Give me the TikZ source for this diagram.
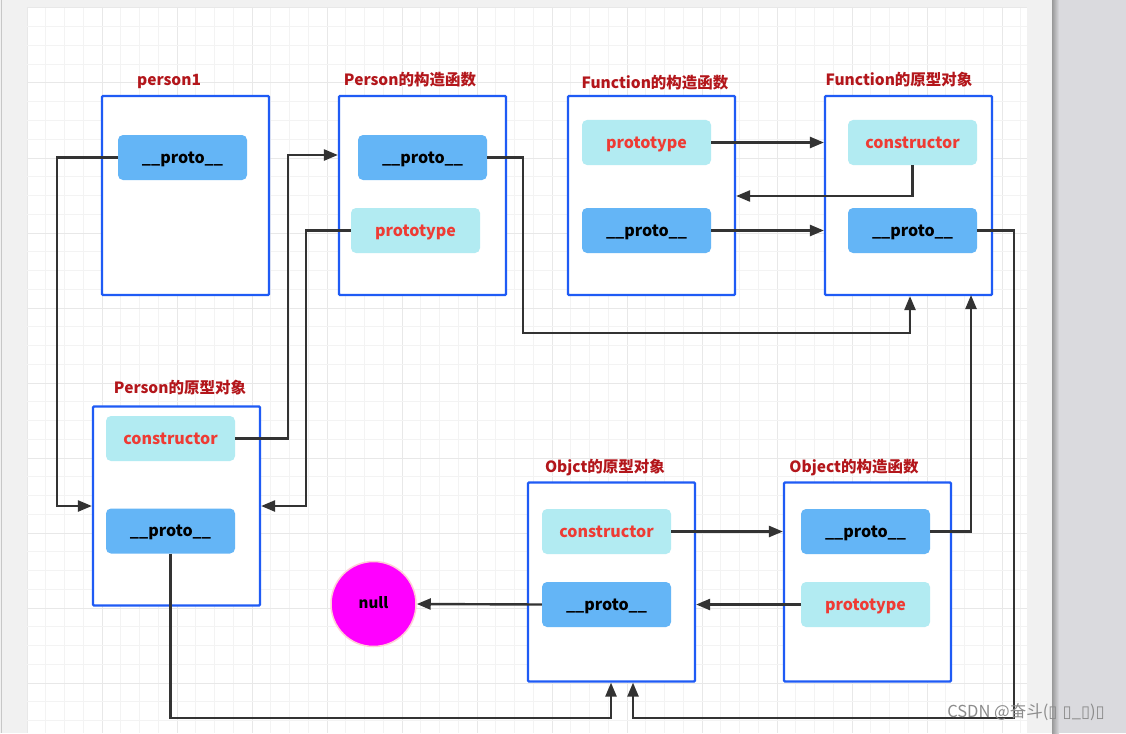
\documentclass[tikz,border=0pt]{standalone}
\usepackage{fontspec}
\setmainfont{Noto Sans CJK SC}
\newfontfamily\dejavu{DejaVu Sans}
\usetikzlibrary{arrows.meta,calc}
\definecolor{boxblue}{HTML}{1F5BF5}
\definecolor{protoblue}{HTML}{64B5F6}
\definecolor{propcyan}{HTML}{B2EBF2}
\definecolor{propred}{HTML}{EE3B34}
\definecolor{titlered}{HTML}{B3161B}
\definecolor{linegray}{HTML}{333333}
\definecolor{gridminor}{HTML}{F3F3F3}
\definecolor{gridmajor}{HTML}{E8E8E8}
\definecolor{sidegray}{HTML}{F1F1F1}
\definecolor{deskgray}{HTML}{DADADE}
\definecolor{nullfill}{RGB}{255,0,255}
\definecolor{nullring}{RGB}{255,205,215}
\definecolor{wmgray}{HTML}{8C8C8C}
\begin{document}
\begin{tikzpicture}[x=1pt,y=-1pt,
  box/.style={draw=boxblue, line width=2.2pt, fill=white, minimum width=167pt, minimum height=199pt, inner sep=0pt, rounded corners=1pt},
  inner/.style={rounded corners=5pt, minimum width=129pt, minimum height=45pt, inner sep=0pt, text height=14.5pt, text depth=3pt, font=\fontsize{16}{18}\selectfont\bfseries},
  protobox/.style={inner, fill=protoblue, text=black},
  propbox/.style={inner, fill=propcyan, text=propred},
  ttl/.style={text=titlered, inner sep=0pt, text height=15pt, text depth=3pt, font=\fontsize{15.5}{18}\selectfont\bfseries},
  arr/.style={draw=linegray, line width=2.4pt, -{Triangle[length=14pt,width=11pt]}}
]
\useasboundingbox (0,0) rectangle (1126,733);
% page background
\fill[sidegray] (0,0) rectangle (1052,733);
\fill[white] (27,8) rectangle (1027,733);
\draw[draw=black!22, line width=1pt] (1,0) -- (1,733);
\fill[deskgray] (1052,0) rectangle (1126,733);
\shade[left color=black!40, right color=deskgray] (1052,0) rectangle (1059,733);
% grid
\foreach \k in {0,...,53} {
  \pgfmathtruncatemacro{\m}{mod(\k,4)}
  \ifnum\m=0 \draw[gridmajor, line width=1pt] (27+18.75*\k,8) -- (27+18.75*\k,733);
  \else \draw[gridminor, line width=0.9pt] (27+18.75*\k,8) -- (27+18.75*\k,733); \fi
}
\foreach \k in {0,...,38} {
  \pgfmathtruncatemacro{\m}{mod(\k,4)}
  \ifnum\m=0 \draw[gridmajor, line width=1pt] (27,8+18.75*\k) -- (1027,8+18.75*\k);
  \else \draw[gridminor, line width=0.9pt] (27,8+18.75*\k) -- (1027,8+18.75*\k); \fi
}
% boxes
\node[box] (p1box) at (185.5,195.5) {};
\node[box] (pcbox) at (422.5,195.5) {};
\node[box] (fcbox) at (651.5,195.5) {};
\node[box] (fobox) at (908.5,195.5) {};
\node[box] (ppbox) at (176.5,506) {};
\node[box] (oobox) at (611.5,582) {};
\node[box] (ocbox) at (867.5,582) {};
% titles
\node[ttl] (t1) at (169,80) {person1};
\node[ttl] (t2) at (410,80) {Person的构造函数};
\node[ttl] (t3) at (655,83) {Function的构造函数};
\node[ttl] (t4) at (899,80) {Function的原型对象};
\node[ttl] (t5) at (180,387) {Person的原型对象};
\node[ttl] (t6) at (605,466) {Objct的原型对象};
\node[ttl] (t7) at (854,466) {Object的构造函数};
% inner items
\node[protobox] (p1proto) at (182.5,157.5) {\_\_proto\_\_};
\node[protobox] (pcproto) at (422.5,157.5) {\_\_proto\_\_};
\node[propbox]  (pcprot)  at (415.5,230.5) {prototype};
\node[propbox]  (fcprot)  at (646.5,142.5) {prototype};
\node[protobox] (fcproto) at (646.5,230.5) {\_\_proto\_\_};
\node[propbox]  (focons)  at (912.5,142.5) {constructor};
\node[protobox] (foproto) at (912.5,230.5) {\_\_proto\_\_};
\node[propbox]  (ppcons)  at (170.5,438.5) {constructor};
\node[protobox] (ppproto) at (170.5,531) {\_\_proto\_\_};
\node[propbox]  (oocons)  at (606.5,531.5) {constructor};
\node[protobox] (ooproto) at (606.5,604.5) {\_\_proto\_\_};
\node[protobox] (ocproto) at (865.5,531.5) {\_\_proto\_\_};
\node[propbox]  (ocprot)  at (865.5,604.5) {prototype};
\node[circle, fill=nullfill, draw=nullring, line width=1.5pt, minimum size=85pt, inner sep=0pt,
      text height=12pt, text depth=3pt, font=\fontsize{15}{18}\selectfont\bfseries] (null) at (373.5,604) {null};
% helper coordinates
\coordinate (c4) at (910,333);
\coordinate (c6) at (912.5,196);
\coordinate (c8) at (1014,718);
\coordinate (c8b) at (633,718);
\coordinate (c9) at (611,718);
\coordinate (c11) at (971,295);
% connectors
\draw[arr] (p1proto.west) -- ++(-61,0) |- (ppbox.west);
\draw[arr] (ppcons.east) -- ++(53,0) |- (pcbox.west |- 0,155);
\draw[arr] (pcprot.west) -- ++(-45,0) |- (ppbox.east);
\draw[arr] (pcproto.east) -- ++(36,0) |- (c4) -- (fobox.south -| c4);
\draw[arr] (fcprot.east) -- (fobox.west |- fcprot.east);
\draw[arr] (focons.south) -- (c6) -- (fcbox.east |- c6);
\draw[arr] (fcproto.east) -- (fobox.west |- fcproto.east);
\draw[arr] (foproto.east) -| (c8) -- (c8b) -- (oobox.south -| c8b);
\draw[arr] (ppproto.south) |- (c9) -- (oobox.south -| c9);
\draw[arr] (oocons.east) -- (ocbox.west |- oocons.east);
\draw[arr] (ocproto.east) -| (c11);
\draw[arr] (ocprot.west) -- (oobox.east |- ocprot.west);
\draw[arr] (ooproto.west) -- (null.east);
% watermark
\node[text=wmgray, inner sep=0pt, font=\fontsize{16.5}{18}\selectfont] (wm) at (1026,712)
  {CSDN @奋斗({\dejavu ▯ ▯}\_{\dejavu ▯}){\dejavu ▯}};
\end{tikzpicture}
\end{document}
